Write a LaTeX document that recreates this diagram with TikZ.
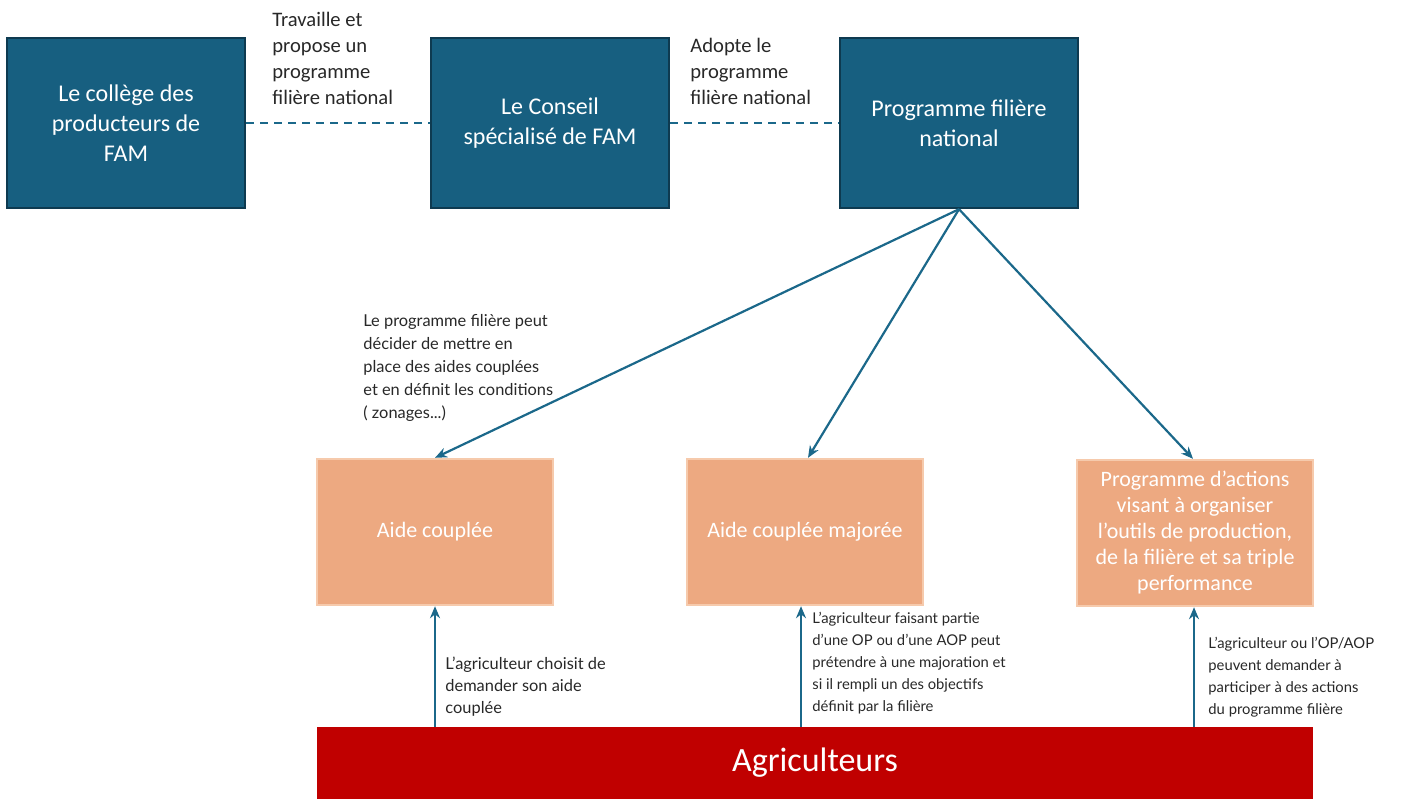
\documentclass[tikz,border=0pt]{standalone}
\usepackage{fontspec}
\setmainfont{Carlito}
\newfontfamily\smallfont{Lato}
\usetikzlibrary{arrows.meta}
\definecolor{tealbox}{RGB}{23,95,128}
\definecolor{tealedge}{RGB}{14,58,80}
\definecolor{tealline}{RGB}{27,104,138}
\definecolor{orangebox}{RGB}{237,169,129}
\definecolor{orangeedge}{RGB}{246,202,172}
\definecolor{agrired}{RGB}{192,0,0}
\definecolor{labeltext}{RGB}{40,40,40}
\tikzset{
  darkbox/.style={draw=tealedge, line width=1.2pt, fill=tealbox, text=white,
    minimum width=119pt, minimum height=85pt, align=center, inner sep=2pt,
    font=\fontsize{12}{15}\selectfont},
  orbox/.style={draw=orangeedge, line width=1.2pt, fill=orangebox, text=white,
    minimum width=118pt, minimum height=73pt, align=center, inner sep=2pt,
    font=\fontsize{11}{13}\selectfont},
  toplabel/.style={anchor=north west, align=left, inner sep=0pt, text=labeltext,
    font=\fontsize{10.3}{13}\selectfont},
  smalllabel/.style={anchor=north west, align=left, inner sep=0pt, text=labeltext,
    font=\smallfont\fontsize{7.4}{11}\selectfont},
  widelabel/.style={smalllabel, font=\smallfont\fontsize{8.2}{11.5}\selectfont},
  dashlink/.style={draw=tealline, line width=1pt, dash pattern=on 4pt off 3pt},
  arr/.style={draw=tealline, line width=1.1pt, -{Stealth[length=6pt,width=5pt]}},
}
\begin{document}
\begin{tikzpicture}[x=0.5pt,y=-0.5pt]
\useasboundingbox (0,0) rectangle (1417,798);
% top boxes
\node[darkbox] (b1) at (126,123) {Le collège des\\producteurs de\\FAM};
\node[darkbox] (b2) at (550,123) {Le Conseil\\spécialisé de FAM};
\node[darkbox] (b3) at (959,123) {Programme filière\\national};
\draw[dashlink] (b1.east) -- (b2.west);
\draw[dashlink] (b2.east) -- (b3.west);
\node[toplabel] (l1) at (272,12) {Travaille et\\propose un\\programme\\filière national};
\node[toplabel] (l2) at (690,38) {Adopte le\\programme\\filière national};
% orange boxes
\node[orbox] (o1) at (435,532) {Aide couplée};
\node[orbox] (o2) at (805,532) {Aide couplée majorée};
\node[orbox] (o3) at (1195,533) {Programme d’actions\\visant à organiser\\l’outils de production,\\de la filière et sa triple\\performance};
\draw[arr] (b3.south) -- (o1.north);
\draw[arr] (b3.south) -- ([xshift=1.5pt]o2.north);
\draw[arr] (b3.south) -- ([xshift=-1pt]o3.north);
\node[widelabel] (l3) at (363,314) {Le programme filière peut\\décider de mettre en\\place des aides couplées\\et en définit les conditions\\( zonages...)};
% agriculteurs
\node[fill=agrired, minimum width=498pt, minimum height=36pt, inner sep=0pt, text=white,
  font=\fontsize{17}{20}\selectfont] (agri) at (815,763) {\raisebox{-2pt}{Agriculteurs}};
\coordinate (a1) at (435,727);
\coordinate (a2) at (801,727);
\coordinate (a3) at (1194,727);
\draw[arr] (a1) -- (o1.south);
\draw[arr] (a2) -- (a2 |- o2.south);
\draw[arr] (a3) -- (a3 |- o3.south);
\node[widelabel, font=\smallfont\fontsize{8.2}{11}\selectfont] (l4) at (445,657) {L’agriculteur choisit de\\demander son aide\\couplée};
\node[smalllabel] (l5) at (812,612) {L’agriculteur faisant partie\\d’une OP ou d’une AOP peut\\prétendre à une majoration et\\si il rempli un des objectifs\\définit par la filière};
\node[smalllabel] (l6) at (1208,637) {L’agriculteur ou l’OP/AOP\\peuvent demander à\\participer à des actions\\du programme filière};
\end{tikzpicture}
\end{document}
